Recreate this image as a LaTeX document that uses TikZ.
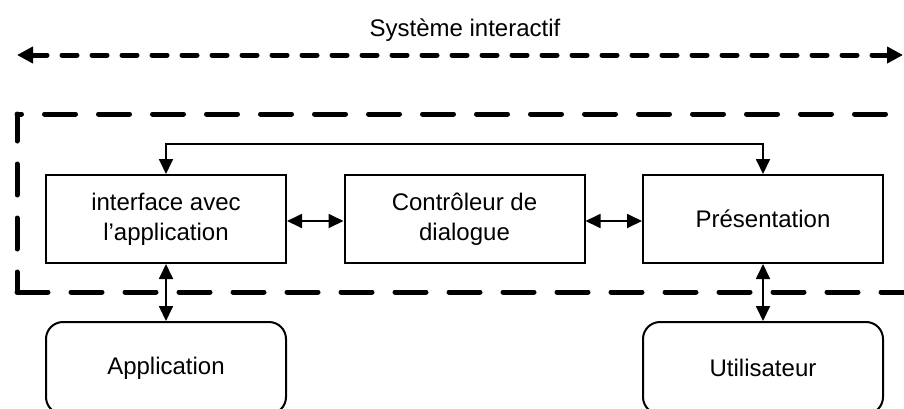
\documentclass[tikz,border=0pt]{standalone}
\usepackage{fontspec}
\setmainfont{Liberation Sans}
\usetikzlibrary{arrows.meta}
\tikzset{
  box/.style={draw, line width=1pt, minimum width=120pt, minimum height=44pt,
    align=center, font=\fontsize{12}{15}\selectfont, inner sep=0pt},
  actor/.style={box, rounded corners=8.5pt, minimum height=46pt},
  link/.style={line width=0.9pt, {Triangle[length=7.5pt,width=7pt]}-{Triangle[length=7.5pt,width=7pt]}},
  frameline/.style={line width=2.5pt, line cap=round, dash pattern=on 15.5pt off 11.5pt},
  bigarrow/.style={line width=2.5pt, line cap=round, dash pattern=on 7.5pt off 7.5pt,
    {Triangle[length=8pt,width=8pt]}-{Triangle[length=8pt,width=8pt]}}
}
\begin{document}
\begin{tikzpicture}[x=0.5pt,y=-0.5pt]
\useasboundingbox (0,0) rectangle (904,408);
\clip (0,0) rectangle (904,408);

% title and scope arrow
\node[font=\fontsize{12}{15}\selectfont] (title) at (465,30) {Système interactif};
\coordinate (sl) at (17,55);
\coordinate (sr) at (903,55);
\draw[bigarrow] (sl) -- (sr);

% dashed frame (open on the right)
\coordinate (ftl) at (17,114);
\coordinate (fbl) at (17,292);
\coordinate (ftr) at (960,114);
\coordinate (fbr) at (960,292);
\draw[frameline, dash phase=13.25pt] (ftl) -- (ftr);
\draw[frameline, dash phase=2pt] (ftl) -- (fbl);
\draw[frameline] (fbl) -- (fbr);

% components
\node[box] (b1) at (166,219) {interface avec\\l’application};
\node[box] (b2) at (464.5,219) {Contrôleur de\\dialogue};
\node[box] (b3) at (763,219) {Présentation};
\node[actor] (app) at (166,368) {Application};
\node[actor] (usr) at (763,368) {Utilisateur};

% connectors
\draw[link] ([yshift=-1pt]b1.east) -- ([yshift=-1pt]b2.west);
\draw[link] ([yshift=-1pt]b2.east) -- ([yshift=-1pt]b3.west);
\draw[link] (b1.north) -- ++(0,-30) -| (b3.north);
\draw[link] (b1.south) -- (app.north);
\draw[link] (b3.south) -- (usr.north);
\end{tikzpicture}
\end{document}
